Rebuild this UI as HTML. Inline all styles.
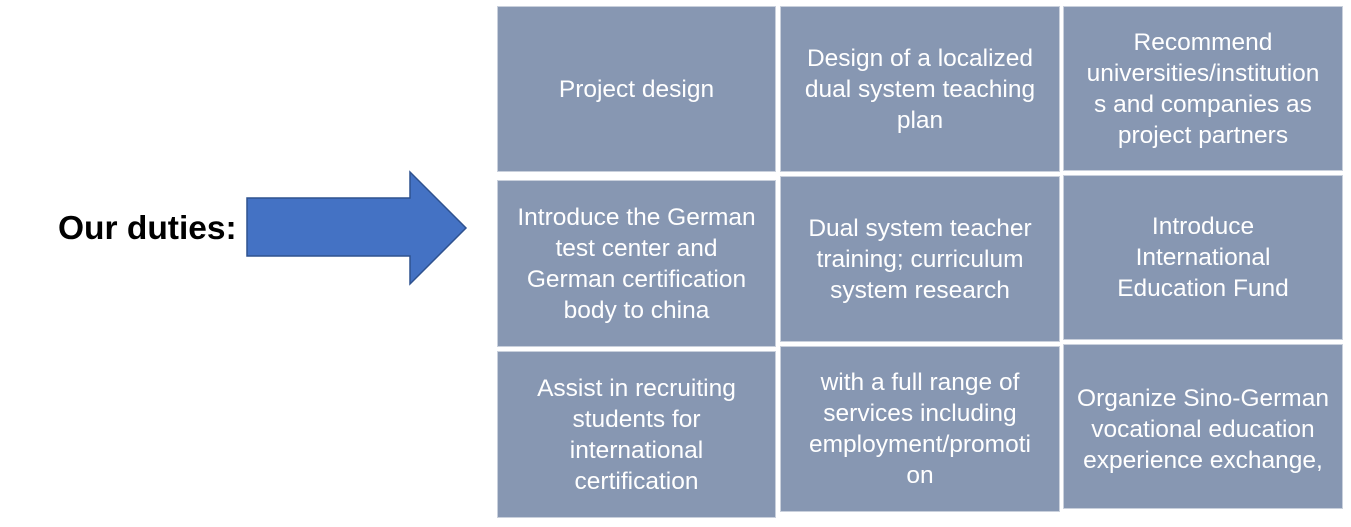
<!DOCTYPE html>
<html><head><style>
body{margin:0;width:1351px;height:527px;background:#fff;position:relative;overflow:hidden;font-family:"Liberation Sans",sans-serif}
.b{position:absolute;background:#8797b2;color:#fff;display:flex;align-items:center;justify-content:center;text-align:center;font-size:24.5px;line-height:31px;white-space:nowrap;box-sizing:border-box;border:1px solid #c9d0dc;overflow:visible}
.t{position:absolute;left:58px;top:210px;font-size:33.5px;font-weight:bold;color:#000}
</style></head><body>
<div class="t">Our duties:</div>
<svg style="position:absolute;left:0;top:0" width="1351" height="527">
<polygon points="247,198 410,198 410,172 466,228 410,284 410,256 247,256" fill="#4472c4" stroke="#2f528f" stroke-width="1.5"/>
</svg>
<div class="b" style="left:497px;top:6px;width:279px;height:166px">Project design</div>
<div class="b" style="left:780px;top:6px;width:280px;height:166px">Design of a localized<br>dual system teaching<br>plan</div>
<div class="b" style="left:1063px;top:6px;width:280px;height:165px">Recommend<br>universities/institution<br>s and companies as<br>project partners</div>
<div class="b" style="left:497px;top:180px;width:279px;height:167px">Introduce the German<br>test center and<br>German certification<br>body to china</div>
<div class="b" style="left:780px;top:176px;width:280px;height:166px">Dual system teacher<br>training; curriculum<br>system research</div>
<div class="b" style="left:1063px;top:175px;width:280px;height:165px">Introduce<br>International<br>Education Fund</div>
<div class="b" style="left:497px;top:351px;width:279px;height:167px">Assist in recruiting<br>students for<br>international<br>certification</div>
<div class="b" style="left:780px;top:346px;width:280px;height:166px">with a full range of<br>services including<br>employment/promoti<br>on</div>
<div class="b" style="left:1063px;top:344px;width:280px;height:165px;padding-top:6px">Organize Sino-German<br>vocational education<br>experience exchange,</div>
</body></html>
